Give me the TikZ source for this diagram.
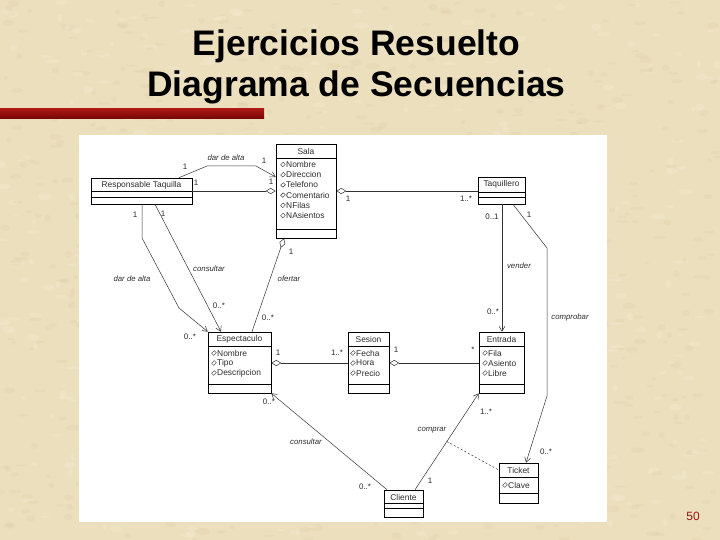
\documentclass[tikz,border=0pt]{standalone}
\usepackage{fontspec}
\setmainfont{Liberation Sans}
\usetikzlibrary{arrows.meta,calc}
\definecolor{parch}{RGB}{236,223,190}
\definecolor{parchdark}{RGB}{200,178,130}
\definecolor{parchlight}{RGB}{248,240,218}
\definecolor{bartop}{RGB}{170,25,20}
\definecolor{barbot}{RGB}{115,5,5}
\definecolor{ink}{RGB}{45,45,45}
\definecolor{numred}{RGB}{150,20,20}
\newcommand{\clsattr}[4]{%
  \draw[ink, line width=0.4pt] (#2-2.4,#3+0.3) -- (#2+0.2,#3-2.3) -- (#2+2.4,#3-0.3) -- (#2-0.2,#3+2.3) -- cycle;
  \node[attrtxt] (#1) at (#2+3,#3) {#4};%
}
\begin{document}
\begin{tikzpicture}[x=1pt,y=-1pt,
  clsbox/.style={draw=black, line width=0.6pt, fill=white, inner sep=0pt},
  sepline/.style={draw=black, line width=0.6pt},
  clsname/.style={font=\fontsize{8.4}{9}\selectfont, text=ink, inner sep=0pt},
  attrtxt/.style={font=\fontsize{8.4}{9}\selectfont, text=ink, inner sep=0pt, anchor=west},
  lbl/.style={font=\fontsize{8}{8}\selectfont, text=ink, inner sep=0pt},
  assoc/.style={font=\fontsize{7.8}{8}\selectfont\itshape, text=ink, inner sep=0pt},
  conn/.style={draw=black!80, line width=0.5pt},
  nav/.style={conn, -{Straight Barb[length=5pt,width=6pt]}},
  agg/.style={conn, {Diamond[open,length=10pt,width=6pt]}-},
]
\useasboundingbox (0,0) rectangle (720,540);
\fill[parch] (0,0) rectangle (720,540);
\pgfmathsetseed{11}
\foreach \i in {1,...,700}{
  \fill[parchdark, opacity=0.10] (720*rnd,540*rnd) ellipse ({2+5*rnd} and {1+2.5*rnd});
}
\foreach \i in {1,...,400}{
  \fill[parchlight, opacity=0.25] (720*rnd,540*rnd) ellipse ({2+6*rnd} and {1+3*rnd});
}
\fill[white] (79,135) rectangle (607,522);
\shade[top color=bartop, bottom color=barbot] (0,109) rectangle (264,119);
\node[font=\fontsize{35.5}{42}\selectfont\bfseries, anchor=base, inner sep=0pt] (t1) at (356.5,55.5) {Ejercicios Resuelto};
\node[font=\fontsize{35.5}{42}\selectfont\bfseries, anchor=base, inner sep=0pt] (t2) at (356.5,97) {Diagrama de Secuencias};
\node[font=\fontsize{12}{13}\selectfont, text=numred, inner sep=0pt] (pg) at (693,516) {50};

% ---------- classes ----------
% Responsable Taquilla
\node[clsbox, minimum width=101pt, minimum height=26pt] (rt) at (141.5,191) {};
\draw[sepline] (rt.west |- 0,191) -- (rt.east |- 0,191);
\draw[sepline] (rt.west |- 0,197) -- (rt.east |- 0,197);
\node[clsname] (rtn) at (141.5,185) {Responsable Taquilla};
% Sala
\node[clsbox, minimum width=60pt, minimum height=94pt] (sala) at (306,191) {};
\draw[sepline] (sala.west |- 0,158) -- (sala.east |- 0,158);
\draw[sepline] (sala.west |- 0,229) -- (sala.east |- 0,229);
\node[clsname] (salan) at (306,151) {Sala};
\clsattr{sa1}{283}{164.5}{Nombre}
\clsattr{sa2}{283}{174.7}{Direccion}
\clsattr{sa3}{283}{184.9}{Telefono}
\clsattr{sa4}{283}{195.1}{Comentario}
\clsattr{sa5}{283}{205.3}{NFilas}
\clsattr{sa6}{283}{215.5}{NAsientos}
% Taquillero
\node[clsbox, minimum width=47pt, minimum height=27pt] (taq) at (501.5,190.5) {};
\draw[sepline] (taq.west |- 0,192) -- (taq.east |- 0,192);
\draw[sepline] (taq.west |- 0,197) -- (taq.east |- 0,197);
\node[clsname] (taqn) at (501.5,184.5) {Taquillero};
% Espectaculo
\node[clsbox, minimum width=63pt, minimum height=61pt] (esp) at (239.5,362.5) {};
\draw[sepline] (esp.west |- 0,346) -- (esp.east |- 0,346);
\draw[sepline] (esp.west |- 0,384) -- (esp.east |- 0,384);
\node[clsname] (espn) at (239.5,339) {Espectaculo};
\clsattr{es1}{214}{353}{Nombre}
\clsattr{es2}{214}{363}{Tipo}
\clsattr{es3}{214}{373}{Descripcion}
% Sesion
\node[clsbox, minimum width=41pt, minimum height=61pt] (ses) at (368.5,362.5) {};
\draw[sepline] (ses.west |- 0,346) -- (ses.east |- 0,346);
\draw[sepline] (ses.west |- 0,384) -- (ses.east |- 0,384);
\node[clsname] (sesn) at (368.5,339) {Sesion};
\clsattr{se1}{353}{353}{Fecha}
\clsattr{se2}{353}{363}{Hora}
\clsattr{se3}{353}{373}{Precio}
% Entrada
\node[clsbox, minimum width=45pt, minimum height=61pt] (ent) at (501.5,362.5) {};
\draw[sepline] (ent.west |- 0,346) -- (ent.east |- 0,346);
\draw[sepline] (ent.west |- 0,384) -- (ent.east |- 0,384);
\node[clsname] (entn) at (501.5,339) {Entrada};
\clsattr{en1}{485}{353}{Fila}
\clsattr{en2}{485}{363}{Asiento}
\clsattr{en3}{485}{373}{Libre}
% Cliente
\node[clsbox, minimum width=39pt, minimum height=27pt] (cli) at (403.5,503.5) {};
\draw[sepline, line width=0.9pt] (cli.west |- 0,503) -- (cli.east |- 0,503);
\draw[sepline] (cli.west |- 0,508) -- (cli.east |- 0,508);
\node[clsname] (clin) at (403.5,497) {Cliente};
% Ticket
\node[clsbox, minimum width=39pt, minimum height=40pt] (tic) at (518.5,483) {};
\draw[sepline, line width=0.9pt] (tic.west |- 0,477) -- (tic.east |- 0,477);
\draw[sepline] (tic.west |- 0,493) -- (tic.east |- 0,493);
\node[clsname] (ticn) at (518.5,470) {Ticket};
\clsattr{ti1}{505}{485}{Clave}

% ---------- connectors ----------
% dar de alta (RT -> Sala)
\coordinate (b1) at (207,166);
\coordinate (b2) at (256,166);
\draw[nav] (rt.north -| 179,0) -- (b1) -- (b2) -- (sala.west |- 0,177);
\node[lbl] (m1) at (185,167) {1};
\node[assoc] (a1) at (226,158) {dar de alta};
\node[lbl] (m2) at (264,161) {1};
% RT -- Sala aggregation
\draw[agg] (sala.west |- 0,191) -- (rt.east |- 0,191);
\node[lbl] (m3) at (196,183) {1};
\node[lbl] (m4) at (271,182) {1};
% Sala -- Taquillero
\draw[agg] (sala.east |- 0,191) -- (taq.west |- 0,191);
\node[lbl] (m5) at (348,199) {1};
\node[lbl] (m6) at (466,199) {1..*};
% vender
\draw[nav] (taq.south -| 502,0) -- (ent.north -| 502,0);
\node[lbl] (m7) at (492,217) {0..1};
\node[assoc] (a2) at (519,266) {vender};
\node[lbl] (m8) at (493,312) {0..*};
% comprobar
\coordinate (b3) at (547,248);
\coordinate (b4) at (547,396);
\draw[nav] (taq.south -| 513,0) -- (b3) -- (b4) -- (tic.north -| 526,0);
\node[lbl] (m9) at (529,215) {1};
\node[assoc] (a3) at (570,317) {comprobar};
\node[lbl] (m10) at (546,452) {0..*};
% Espectaculo -- Sesion
\draw[agg] (esp.east |- 0,363) -- (ses.west |- 0,363);
\node[lbl] (m11) at (278,353) {1};
\node[lbl] (m12) at (337,353) {1..*};
% Sesion -- Entrada
\draw[agg] (ses.east |- 0,363) -- (ent.west |- 0,363);
\node[lbl] (m13) at (396,350) {1};
\node[lbl] (m14) at (473,350) {*};
% ofertar
\draw[agg] (sala.south -| 284,0) -- (esp.north -| 252,0);
\node[lbl] (m15) at (291,252) {1};
\node[assoc] (a4) at (289,279) {ofertar};
\node[lbl] (m16) at (268,318) {0..*};
% consultar (RT -> Espectaculo)
\draw[nav] (rt.south -| 155,0) -- (esp.north -| 221,0);
\node[lbl] (m17) at (163,214) {1};
\node[assoc] (a5) at (209,269) {consultar};
\node[lbl] (m18) at (219,306) {0..*};
% dar de alta (RT -> Espectaculo)
\coordinate (b5) at (142,238);
\coordinate (b6) at (179,308);
\draw[nav] (rt.south -| 142,0) -- (b5) -- (b6) -- (esp.north west);
\node[lbl] (m19) at (135,215) {1};
\node[assoc] (a6) at (132,279) {dar de alta};
\node[lbl] (m20) at (190,337) {0..*};
% consultar (Cliente -> Espectaculo)
\draw[nav] (cli.north -| 387,0) -- (esp.south east);
\node[assoc] (a7) at (306,442) {consultar};
\node[lbl] (m21) at (269,402) {0..*};
\node[lbl] (m22) at (365,487) {0..*};
% comprar (Cliente -> Entrada)
\draw[nav] (cli.north -| 415,0) -- coordinate[pos=0.5] (mid) (ent.south west);
\node[assoc] (a8) at (432,430) {comprar};
\node[lbl] (m23) at (486,412) {1..*};
\node[lbl] (m24) at (430,481) {1};
% association class link
\draw[conn, dashed, dash pattern=on 2pt off 2pt] (mid) -- (tic.west |- 0,470);
\end{tikzpicture}
\end{document}
